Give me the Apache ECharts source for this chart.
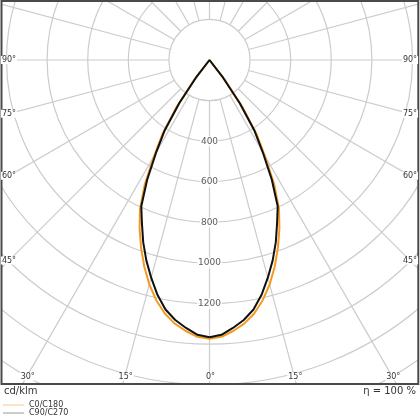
<!DOCTYPE html>
<html><head><meta charset="utf-8">
<script src="https://cdn.jsdelivr.net/npm/echarts@6/dist/echarts.min.js"></script>
<style>html,body{margin:0;padding:0;background:#fff}#c{width:420px;height:420px}</style>
</head><body><div id="c"></div>
<script>
// gamma angles (deg, 0 = straight down)
const gammaAngles = [0, 2.5, 5, 7.5, 10, 12.5, 15, 17.5, 20, 22.5, 25, 27.5, 30, 32.5, 35, 37.5, 40,
  45, 50, 55, 60, 65, 70, 75, 80, 85, 90, 95, 100, 105, 110, 115, 120, 125, 130, 135, 140, 145, 150, 155, 160, 165, 170, 175, 180];
// luminous intensity, cd/klm
const c0c180 = [1373, 1365, 1340, 1310, 1268, 1212, 1145, 1068, 985, 900, 810, 690, 545, 430, 280, 125, 0,
  0, 0, 0, 0, 0, 0, 0, 0, 0, 0, 0, 0, 0, 0, 0, 0, 0, 0, 0, 0, 0, 0, 0, 0, 0, 0, 0, 0];
const c90c270 = [1366, 1355, 1325, 1292, 1248, 1185, 1110, 1035, 955, 870, 795, 665, 525, 410, 260, 110, 0,
  0, 0, 0, 0, 0, 0, 0, 0, 0, 0, 0, 0, 0, 0, 0, 0, 0, 0, 0, 0, 0, 0, 0, 0, 0, 0, 0, 0];
const seriesNames = ['C0/C180', 'C90/C270'];
const radiusTickLabels = [400, 600, 800, 1000, 1200];
const leftAngleLabels = [90, 75, 60, 45];
const bottomAngleLabels = [-30, -15, 0, 15, 30];
const rightAngleLabels = [45, 60, 75, 90];

const CX = 209.5, CY = 60, R_OUT = 406;
const gridColor = '#cccccc';
const textColor = '#333333';
const FONT = '"DejaVu Sans", sans-serif';

function planeData(vals) {
  const out = [];
  for (let i = 0; i < gammaAngles.length; i++) out.push([vals[i], gammaAngles[i]]);
  for (let i = gammaAngles.length - 2; i >= 0; i--) out.push([vals[i], 360 - gammaAngles[i]]);
  return out;
}

const graphics = [];
graphics.push({type: 'rect', z: 100, shape: {x: 0, y: 385, width: 420, height: 35}, style: {fill: '#fff'}});
graphics.push({type: 'rect', z: 100, shape: {x: 0, y: 0, width: 420, height: 1}, style: {fill: '#fff'}});
graphics.push({type: 'rect', z: 100, shape: {x: 0, y: 0, width: 1, height: 385}, style: {fill: '#fff'}});
graphics.push({type: 'rect', z: 100, shape: {x: 419, y: 0, width: 1, height: 385}, style: {fill: '#fff'}});
graphics.push({type: 'rect', z: 101, shape: {x: 1.5, y: 1, width: 416.8, height: 383}, style: {fill: 'none', stroke: '#4a4a4a', lineWidth: 2}});

function angText(label, x, y) {
  graphics.push({type: 'text', z: 102, style: {text: label + '°', x: x, y: y, align: 'center', verticalAlign: 'middle',
    font: '8px ' + FONT, fill: textColor, backgroundColor: '#fff', padding: [0, 1]}});
}
leftAngleLabels.forEach(g => {
  const r = g * Math.PI / 180, t = (CX - 9) / Math.sin(r);
  angText(g, 9, CY + t * Math.cos(r));
});
rightAngleLabels.forEach(g => {
  const r = g * Math.PI / 180, t = (410 - CX) / Math.sin(r);
  angText(g, 410, CY + t * Math.cos(r));
});
bottomAngleLabels.forEach(g => {
  const r = g * Math.PI / 180, t = (376.5 - CY) / Math.cos(r);
  angText(Math.abs(g), CX + t * Math.sin(r) + 1, 376.5);
});

graphics.push({type: 'text', z: 102, style: {text: 'cd/klm', x: 4, y: 391, verticalAlign: 'middle', font: '10px ' + FONT, fill: textColor}});
graphics.push({type: 'text', z: 102, style: {text: 'η = 100 %', x: 416, y: 391, align: 'right', verticalAlign: 'middle', font: '10px ' + FONT, fill: textColor}});
graphics.push({type: 'line', z: 102, shape: {x1: 3, y1: 405, x2: 24, y2: 405}, style: {stroke: '#f6c98c', lineWidth: 1}});
graphics.push({type: 'line', z: 102, shape: {x1: 3, y1: 413, x2: 24, y2: 413}, style: {stroke: '#9a9a9a', lineWidth: 1}});
graphics.push({type: 'text', z: 102, style: {text: seriesNames[0], x: 29, y: 405, verticalAlign: 'middle', font: '8px ' + FONT, fill: textColor}});
graphics.push({type: 'text', z: 102, style: {text: seriesNames[1], x: 29, y: 413, verticalAlign: 'middle', font: '8px ' + FONT, fill: textColor}});

const hidden = {axisLine: {show: false}, axisTick: {show: false}, axisLabel: {show: false}};
const chart = echarts.init(document.getElementById('c'), null, {renderer: 'canvas'});
chart.setOption({
  animation: false,
  backgroundColor: '#fff',
  polar: [
    {center: [CX, CY], radius: [R_OUT * 200 / 2000, R_OUT]},
    {center: [CX, CY], radius: [0, R_OUT]}
  ],
  radiusAxis: [
    Object.assign({polarIndex: 0, type: 'value', min: 200, max: 2000, interval: 200,
      splitLine: {show: true, lineStyle: {color: gridColor, width: 1.2}}}, hidden),
    Object.assign({polarIndex: 1, type: 'value', min: 0, max: 2000, interval: 200,
      splitLine: {show: false}}, hidden)
  ],
  angleAxis: [
    Object.assign({polarIndex: 0, type: 'value', min: 0, max: 360, interval: 15, startAngle: 270, clockwise: true,
      splitLine: {show: true, lineStyle: {color: gridColor, width: 1.2}}}, hidden),
    Object.assign({polarIndex: 1, type: 'value', min: 0, max: 360, interval: 15, startAngle: 270, clockwise: true,
      splitLine: {show: false}}, hidden)
  ],
  series: [
    {name: seriesNames[0], type: 'line', coordinateSystem: 'polar', polarIndex: 1, clip: false, symbol: 'none',
      data: planeData(c0c180), lineStyle: {color: '#f29b22', width: 2}, z: 3},
    {name: seriesNames[1], type: 'line', coordinateSystem: 'polar', polarIndex: 1, clip: false, symbol: 'none',
      data: planeData(c90c270), lineStyle: {color: '#111111', width: 2}, z: 4},
    {type: 'scatter', coordinateSystem: 'polar', polarIndex: 1, silent: true, symbolSize: 1, z: 5,
      itemStyle: {color: 'rgba(0,0,0,0)'},
      data: radiusTickLabels.map(v => [v, 0]),
      label: {show: true, position: 'inside', formatter: p => String(p.value[0]), fontSize: 9,
        fontFamily: 'DejaVu Sans', color: textColor, backgroundColor: '#fff', padding: [1, 1]}}
  ],
  graphic: graphics
});
</script></body></html>
